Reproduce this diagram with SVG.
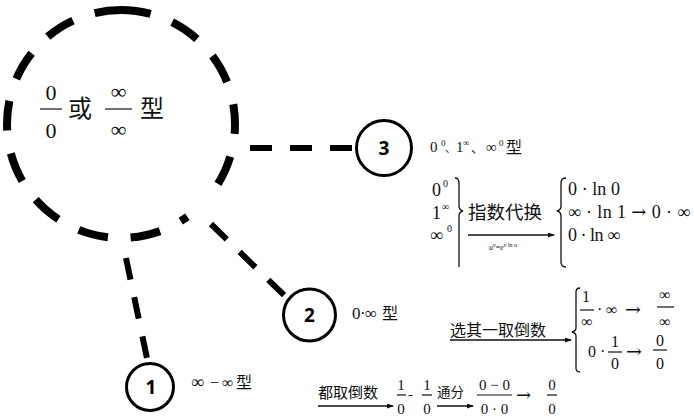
<svg xmlns="http://www.w3.org/2000/svg" width="694" height="419" viewBox="0 0 694 419">
<defs>
<style>
.m{font-family:"Liberation Serif","Noto Sans CJK SC",serif;fill:#111}
.c{font-family:"Noto Sans CJK SC","Liberation Serif",sans-serif;fill:#111}
.a{font-family:"DejaVu Serif","Liberation Serif",serif}
.n{font-family:"Open Sans","Liberation Sans",sans-serif;font-weight:700;fill:#000;text-anchor:middle}
.mid{text-anchor:middle}
.node{fill:#fff;stroke:#000;stroke-width:3}
.conn{stroke:#000;stroke-width:6;fill:none;stroke-dasharray:22 18}
.bar{stroke:#111;stroke-width:1.2}
.br{fill:none;stroke:#111;stroke-width:1.3}
.ar{stroke:#111;stroke-width:1.3;marker-end:url(#arr)}
</style>
<marker id="arr" markerWidth="7" markerHeight="5" refX="6" refY="2.5" orient="auto" markerUnits="userSpaceOnUse"><path d="M0,0 L7,2.5 L0,5 z" fill="#111"/></marker>
</defs>
<rect width="694" height="419" fill="#fff"/>

<g id="connectors">
<line class="conn" x1="250" y1="148" x2="357" y2="148"/>
<line class="conn" x1="211" y1="224" x2="288" y2="299"/>
<line class="conn" x1="126" y1="258" x2="148" y2="363"/>
</g>

<g id="node-main">
<circle cx="121" cy="124" r="114" transform="rotate(-90 121 124)" fill="none" stroke="#000" stroke-width="8" stroke-dasharray="30 23 30 23 30 23 30 23 30 45 8 23 30 23 30 23 30 23 30 23 30 23 30 23 30 23 30 23 30 30"/>
<text class="m mid" x="51" y="100" font-size="22">0</text>
<line class="bar" x1="40" y1="109" x2="62" y2="109"/>
<text class="m mid" x="51" y="138" font-size="22">0</text>
<text class="c" x="68" y="117" font-size="24">或</text>
<text class="m mid" x="118.5" y="99" font-size="22">∞</text>
<line class="bar" x1="105" y1="109" x2="132" y2="109"/>
<text class="m mid" x="118.5" y="137" font-size="22">∞</text>
<text class="c" x="140" y="117" font-size="24">型</text>
</g>

<g id="node-3">
<circle class="node" cx="384" cy="148" r="27.5"/>
<text class="n" x="384" y="155" font-size="19">3</text>
</g>
<g id="node-2">
<circle class="node" cx="309.5" cy="315" r="26"/>
<text class="n" x="309.5" y="322" font-size="19">2</text>
</g>
<g id="node-1">
<circle class="node" cx="150" cy="387" r="23.5"/>
<text class="n" x="151" y="394" font-size="19">1</text>
</g>

<g id="label-3">
<text class="m" x="430" y="152" font-size="15">0</text>
<text class="m" x="441" y="146" font-size="9">0</text>
<text class="c" x="445" y="152" font-size="11">、</text>
<text class="m" x="456" y="152" font-size="15">1</text>
<text class="m" x="463" y="146" font-size="9">∞</text>
<text class="c" x="471" y="152" font-size="13">、</text>
<text class="m" x="486" y="152" font-size="15">∞</text>
<text class="m" x="499" y="146" font-size="9">0</text>
<text class="c" x="506" y="153" font-size="16">型</text>
</g>

<g id="detail-3">
<text class="m" x="432" y="196" font-size="18">0</text>
<text class="m" x="443" y="187" font-size="10">0</text>
<text class="m" x="432" y="219" font-size="18">1</text>
<text class="m" x="442" y="210" font-size="10">∞</text>
<text class="m" x="430" y="241" font-size="18">∞</text>
<text class="m" x="447" y="232" font-size="10">0</text>
<path class="br" d="M455,178 Q459,178 459,183 L459,206 Q459,210 463,211 Q459,212 459,216 L459,267"/>
<text class="c" x="468" y="219" font-size="18.5">指数代换</text>
<line class="ar" x1="468" y1="235" x2="554" y2="235"/>
<text class="m" x="489" y="250" font-size="8" font-style="italic">u<tspan dy="-3" font-size="6">v</tspan><tspan dy="3" font-style="normal">=</tspan>e<tspan dy="-3" font-size="6">v <tspan font-style="normal">ln</tspan> u</tspan></text>
<path class="br" d="M566,178 Q561,178 561,183 L561,206 Q561,210 557,211 Q561,212 561,216 L561,262 Q561,267 566,267"/>
<text class="m" x="568" y="195" font-size="18" textLength="52" lengthAdjust="spacing">0 · ln 0</text>
<text class="m" x="568" y="218" font-size="18" textLength="122" lengthAdjust="spacing">∞ · ln 1 <tspan class="a">→</tspan> 0 · ∞</text>
<text class="m" x="568" y="241" font-size="18" textLength="52" lengthAdjust="spacing">0 · ln ∞</text>
</g>

<g id="label-2">
<text class="m" x="352" y="319" font-size="17">0</text>
<text class="m" x="360" y="319" font-size="17">·</text>
<text class="m" x="365" y="319" font-size="17">∞</text>
<text class="c" x="382" y="319" font-size="16">型</text>
</g>

<g id="detail-2">
<text class="c" x="450" y="336" font-size="16">选其一取倒数</text>
<line class="ar" x1="450" y1="340" x2="571" y2="340"/>
<path class="br" d="M580,288 Q576,288 576,292 L576,328 Q576,331 572,332 Q576,333 576,336 L576,368 Q576,372 580,372"/>
<text class="m mid" x="586" y="302" font-size="16">1</text>
<line class="bar" x1="580" y1="310" x2="594" y2="310"/>
<text class="m mid" x="587" y="327" font-size="16">∞</text>
<text class="m" x="597" y="315" font-size="16">·</text>
<text class="m" x="606" y="315" font-size="16">∞</text>
<text class="a" x="625" y="316" font-size="19" fill="#111">→</text>
<text class="m mid" x="665" y="300" font-size="16">∞</text>
<line class="bar" x1="657" y1="307" x2="674" y2="307"/>
<text class="m mid" x="665" y="327" font-size="16">∞</text>
<text class="m" x="588" y="357" font-size="16">0 ·</text>
<text class="m mid" x="615" y="347" font-size="16">1</text>
<line class="bar" x1="608" y1="352" x2="622" y2="352"/>
<text class="m mid" x="615" y="369" font-size="16">0</text>
<text class="a" x="626" y="358" font-size="19" fill="#111">→</text>
<text class="m mid" x="660" y="346" font-size="16">0</text>
<line class="bar" x1="653" y1="350" x2="667" y2="350"/>
<text class="m mid" x="660" y="369" font-size="16">0</text>
</g>

<g id="label-1">
<text class="m" x="191" y="388" font-size="18">∞</text>
<text class="m" x="210" y="388" font-size="16">−</text>
<text class="m" x="222" y="388" font-size="16">∞</text>
<text class="c" x="236" y="388" font-size="16">型</text>
</g>

<g id="detail-1">
<text class="c" x="318" y="398" font-size="15">都取倒数</text>
<line class="ar" x1="318" y1="406" x2="393" y2="406"/>
<text class="m mid" x="401" y="390" font-size="15">1</text>
<line class="bar" x1="397" y1="395" x2="406" y2="395"/>
<text class="m mid" x="401" y="414" font-size="15">0</text>
<text class="m" x="408" y="399" font-size="15">-</text>
<text class="m mid" x="427" y="390" font-size="15">1</text>
<line class="bar" x1="422" y1="395" x2="432" y2="395"/>
<text class="m mid" x="427" y="414" font-size="15">0</text>
<text class="c" x="437" y="397" font-size="13.5">通分</text>
<line class="ar" x1="437" y1="406" x2="473" y2="406"/>
<text class="m mid" x="494.5" y="390" font-size="15">0 − 0</text>
<line class="bar" x1="477" y1="395" x2="512" y2="395"/>
<text class="m mid" x="494.5" y="414" font-size="15">0 · 0</text>
<text class="a" x="516" y="401" font-size="18" fill="#111">→</text>
<text class="m mid" x="552" y="390" font-size="15">0</text>
<line class="bar" x1="547" y1="395" x2="557" y2="395"/>
<text class="m mid" x="552" y="414" font-size="15">0</text>
</g>
</svg>
